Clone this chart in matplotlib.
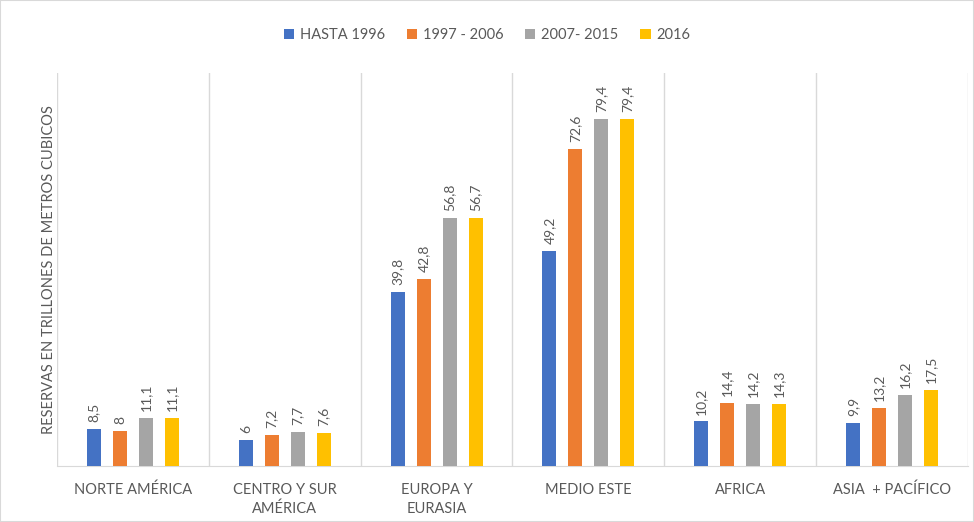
import matplotlib
matplotlib.use("Agg")
import matplotlib.pyplot as plt
import numpy as np
from matplotlib.patches import Rectangle

plt.rcParams['font.family'] = ['Lato', 'DejaVu Sans']

categories = ["NORTE AMÉRICA", "CENTRO Y SUR\nAMÉRICA", "EUROPA Y\nEURASIA",
              "MEDIO ESTE", "AFRICA", "ASIA  + PACÍFICO"]
series_names = ["HASTA 1996", "1997 - 2006", "2007- 2015", "2016"]
hasta_1996 = [8.5, 6, 39.8, 49.2, 10.2, 9.9]
s1997_2006 = [8, 7.2, 42.8, 72.6, 14.4, 13.2]
s2007_2015 = [11.1, 7.7, 56.8, 79.4, 14.2, 16.2]
s2016 = [11.1, 7.6, 56.7, 79.4, 14.3, 17.5]
series = [hasta_1996, s1997_2006, s2007_2015, s2016]
colors = ["#4472C4", "#ED7D31", "#A5A5A5", "#FFC000"]
ylabel = "RESERVAS EN TRILLONES DE METROS CUBICOS"

fig = plt.figure(figsize=(9.74, 5.22), dpi=100)
ax = fig.add_axes([57/974, 56/522, (968-57)/974, (466-73)/522])

x = np.arange(len(categories))
offsets = [-39/152, -13/152, 13/152, 39/152]
width = 14/152
txt = "#595959"

for vals, off, c, name in zip(series, offsets, colors, series_names):
    bars = ax.bar(x + off, vals, width, color=c, label=name, zorder=3)
    for b, v in zip(bars, vals):
        lab = ("%g" % v).replace(".", ",")
        ax.annotate(lab, (b.get_x() + b.get_width()/2, b.get_height()),
                    xytext=(0, 5), textcoords="offset points",
                    rotation=90, ha="center", va="bottom",
                    fontsize=10, color=txt)

ax.set_xlim(-0.5, len(categories) - 0.5)
ax.set_ylim(0, 90)
ax.set_yticks([])
ax.set_xticks(x)
ax.set_xticklabels(categories, fontsize=10.5, color=txt, linespacing=1.45)
ax.tick_params(axis="x", length=0, pad=12)
for sep in np.arange(-0.5, len(categories), 1.0):
    ax.axvline(sep, color="#D9D9D9", lw=1, zorder=1)
for s in ["top", "right", "left"]:
    ax.spines[s].set_visible(False)
ax.spines["bottom"].set_color("#D9D9D9")
ax.set_ylabel(ylabel, fontsize=10.5, color=txt, labelpad=1)

leg = fig.legend(loc="center", bbox_to_anchor=(0.5, 1 - 35/522), ncol=4,
                 frameon=False, fontsize=10.5, handlelength=0.7, handleheight=0.7,
                 columnspacing=1.5, handletextpad=0.4)
for t in leg.get_texts():
    t.set_color(txt)

fig.patches.append(Rectangle((0, 0), 1, 1, transform=fig.transFigure,
                             fill=False, edgecolor="#D9D9D9", lw=1.5))

fig.savefig("out.png", dpi=100)
